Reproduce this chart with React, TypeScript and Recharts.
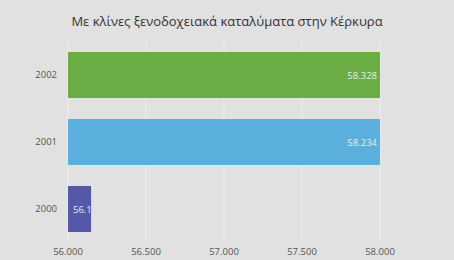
import { Bar, BarChart, CartesianGrid, Cell, LabelList, XAxis, YAxis } from 'recharts';

const years = ['2002', '2001', '2000'];
const beds = [58328, 58234, 56148];
const barColors = ['#6aad45', '#5aafdc', '#5557a8'];
const xTicks = [56000, 56500, 57000, 57500, 58000];

const rows = years.map((year, i) => ({ year, beds: beds[i] }));

const fmt = (v: number | string) => Number(v).toLocaleString('de-DE');

type LabelProps = { x?: number; y?: number; width?: number; height?: number; value?: number; index?: number };

function ValueLabel({ x = 0, y = 0, width = 0, height = 0, value = 0, index = 0 }: LabelProps) {
  // bar is clipped at the domain end, so keep the label inside the visible part
  const right = Math.min(x + width, 380);
  const narrow = right - x < 40;
  const id = `lbl-clip-${index}`;
  return (
    <g>
      <defs>
        <clipPath id={id}>
          <rect x={x} y={y} width={right - x} height={height} />
        </clipPath>
      </defs>
      <text
        x={narrow ? x + 5 : right - 3}
        y={y + height / 2}
        dy={3.5}
        textAnchor={narrow ? 'start' : 'end'}
        fill="#e8efe8"
        fontSize={9.5}
        clipPath={`url(#${id})`}
      >
        {fmt(value)}
      </text>
    </g>
  );
}

export default function App() {
  return (
    <div style={{ position: 'relative', width: 454, height: 260, background: '#e1e1e1', fontFamily: 'Open Sans, sans-serif' }}>
      <style>{'body{margin:0}'}</style>
      <div style={{ position: 'absolute', top: 11, left: 0, width: 454, textAlign: 'center', fontSize: 13, lineHeight: '20px', color: '#333' }}>
        Με κλίνες ξενοδοχειακά καταλύματα στην Κέρκυρα
      </div>
      <BarChart
        width={454}
        height={260}
        data={rows}
        layout="vertical"
        margin={{ top: 41, right: 74, left: 0, bottom: 0 }}
        barSize={46}
      >
        <CartesianGrid horizontal={false} stroke="#eeeeee" />
        <XAxis
          type="number"
          domain={[56000, 58000]}
          ticks={xTicks}
          allowDataOverflow
          tickFormatter={fmt}
          axisLine={false}
          tickLine={false}
          tickMargin={0}
          height={18}
          tick={{ fontSize: 9.5, fill: '#555' }}
        />
        <YAxis
          type="category"
          dataKey="year"
          width={68}
          axisLine={false}
          tickLine={false}
          tickMargin={5}
          tick={{ fontSize: 9.5, fill: '#555' }}
        />
        <Bar dataKey="beds" isAnimationActive={false}>
          {rows.map((r, i) => (
            <Cell key={r.year} fill={barColors[i]} />
          ))}
          <LabelList dataKey="beds" content={<ValueLabel />} />
        </Bar>
      </BarChart>
    </div>
  );
}
